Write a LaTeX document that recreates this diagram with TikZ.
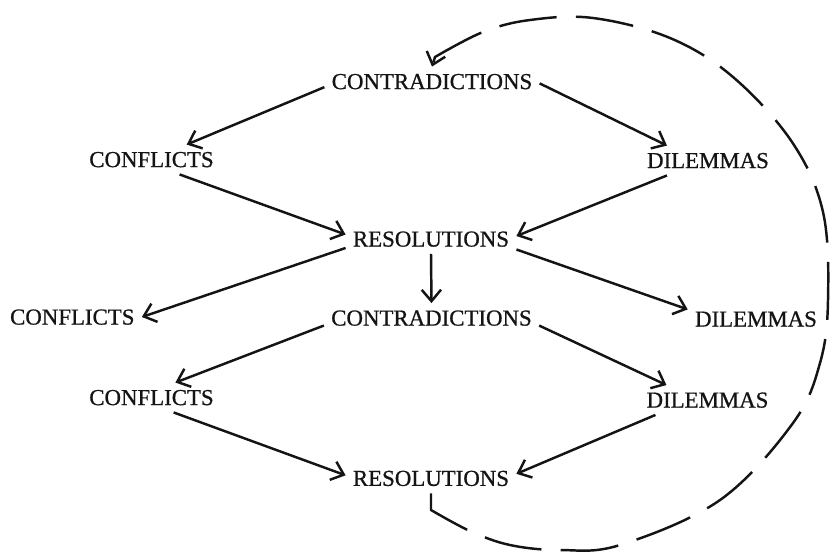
\documentclass[tikz,border=0pt]{standalone}
\usepackage{fontspec}
\setmainfont{Liberation Serif}[AutoFakeBold=0.8]
\usepackage{xcolor}
\usetikzlibrary{arrows.meta}
\definecolor{figline}{RGB}{20,20,20}
\tikzset{
  lab/.style  ={font=\fontsize{13pt}{15pt}\selectfont\bfseries, text=figline, inner sep=4pt, text height=8.6pt, text depth=0pt},
  ptr/.style  ={draw=figline, line width=1.4pt, -{Straight Barb[length=6.5pt,width=11pt,line width=1.4pt]}},
  loopd/.style={ptr, dash pattern=on 33pt off 11pt},
}
\begin{document}
\begin{tikzpicture}[x=0.02cm,y=-0.02cm]
  \useasboundingbox (0,0) rectangle (830,552);
  \node[lab] (ctop) at (432,81.5)   {CONTRADICTIONS};
  \node[lab] (fla)  at (151.5,159.5) {CONFLICTS};
  \node[lab] (dla)  at (708,160.5)  {DILEMMAS};
  \node[lab] (rtop) at (431,239)    {RESOLUTIONS};
  \node[lab] (flo)  at (72.3,317)   {CONFLICTS};
  \node[lab] (cmid) at (431.5,318)  {CONTRADICTIONS};
  \node[lab] (dlo)  at (756,319)    {DILEMMAS};
  \node[lab] (flb)  at (151.5,397.5) {CONFLICTS};
  \node[lab] (dlb)  at (707.5,400)  {DILEMMAS};
  \node[lab] (rbot) at (431,478.3)  {RESOLUTIONS};
  % first round
  \draw[ptr] (ctop.183) -- (fla.23);
  \draw[ptr] (ctop.-1) -- (dla.160);
  \draw[ptr] (fla.-28) -- (rtop.177);
  \draw[ptr] (dla.200) -- (rtop.2);
  % outcomes of the resolutions
  \draw[ptr] (rtop.186) -- (flo.east);
  \draw[ptr] (rtop.south) -- (cmid.north);
  \draw[ptr] (rtop.-7) -- (dlo.172);
  % second round
  \draw[ptr] (cmid.184) -- (flb.32);
  \draw[ptr] (cmid.-4) -- (dlb.160);
  \draw[ptr] (flb.-34) -- (rbot.178);
  \draw[ptr] (dlb.196) -- (rbot.3);
  % feedback loop
  \draw[loopd] (rbot.south) -- plot[smooth,tension=0.6] coordinates {(431,510) (470,531) (510,545) (560,550)
    (620,545) (720,500) (793,423) (820,363) (828,300) (823,212) (792,142) (733,77) (670,38)
    (593,18) (530,20) (483,32) (435,57)} -- (ctop.north);
\end{tikzpicture}
\end{document}
